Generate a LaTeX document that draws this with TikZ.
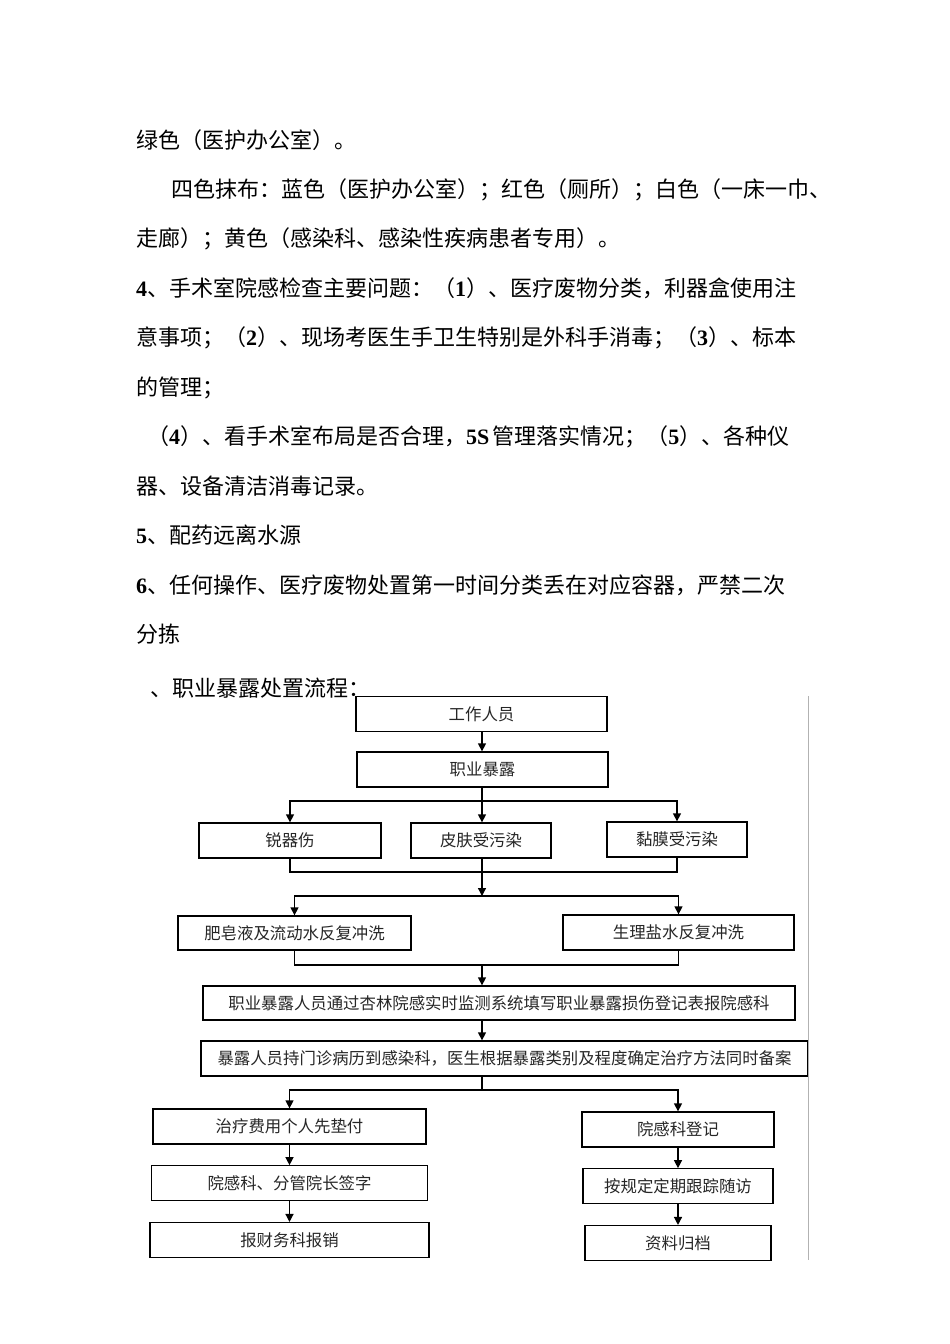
\documentclass[tikz,border=0pt]{standalone}
\usepackage{fontspec}
\setmainfont{Liberation Serif}
\newfontfamily\cjk{Noto Sans CJK SC}
\usepackage{tikz}
\usetikzlibrary{positioning, arrows.meta, calc}
\newcommand{\bn}[1]{{\rmfamily\bfseries #1}} % bold latin digits
\newcommand{\bodyfont}{\cjk\fontsize{22}{26}\selectfont}
\newcommand{\boxfont}{\cjk\fontsize{16.4}{20}\selectfont}
\tikzset{
    node distance=20.5pt, % Gap between two boxes of one column
    box/.style={ % Sets the properties for each box
        draw,
        line width=1.3pt,
        minimum height=35pt,
        inner sep=0pt,
        font=\boxfont,
        text=black!85
    },
    every edge/.style={ % Sets the properties for each straight arrow
        draw,
        ->,>={Triangle[length=8pt,width=8pt]},
        line width=1.3pt
    },
    flow/.style={->,>={Triangle[length=8pt,width=8pt]},line width=1.3pt},
    link/.style={line width=1.3pt},
}

\begin{document}
\begin{tikzpicture}[x=1pt,y=-1pt]
            \tikzset{
                txt/.style={anchor=base west,inner sep=0pt,font=\bodyfont},
                rule/.style={draw=gray!60,line width=1pt}
            }
            \fill[white] (0,0) rectangle (950,1344);
            \useasboundingbox (0,0) rectangle (950,1344);

            % text above the chart
            \node[txt] (l1)   at (136,148)   {绿色（医护办公室）。};
            \node[txt] (l2)   at (171,197.3) {四色抹布：蓝色（医护办公室）；红色（厕所）；白色（一床一巾、};
            \node[txt] (l3)   at (136,246.8) {走廊）；黄色（感染科、感染性疾病患者专用）。};
            \node[txt] (l4)   at (136,296.3) {\bn{4}、手术室院感检查主要问题：（\bn{1}）、医疗废物分类，利器盒使用注};
            \node[txt] (l5)   at (136,345.8) {意事项；（\bn{2}）、现场考医生手卫生特别是外科手消毒；（\bn{3}）、标本};
            \node[txt] (l6)   at (136,395.3) {的管理；};
            \node[txt] (l7)   at (147,444.8) {（\bn{4}）、看手术室布局是否合理，\bn{5S}\hspace{3pt}管理落实情况；（\bn{5}）、各种仪};
            \node[txt] (l8)   at (136,494.3) {器、设备清洁消毒记录。};
            \node[txt] (l9)   at (136,543.8) {\bn{5}、配药远离水源};
            \node[txt] (l10)  at (136,593.3) {\bn{6}、任何操作、医疗废物处置第一时间分类丢在对应容器，严禁二次};
            \node[txt] (l11)  at (136,642.8) {分拣};
            \node[txt] (head) at (150,696)   {、职业暴露处置流程：};

            % boxes
            \node[box, minimum width=251pt] (work)    at (481.5,714)   {工作人员};
            \node[box, minimum width=251pt] (expo)    at (482.5,769.5) {职业暴露};
            \node[box, minimum width=182pt] (sharp)   at (290,840.5)   {锐器伤};
            \node[box, minimum width=140pt] (skin)    at (481,840.5)   {皮肤受污染};
            \node[box, minimum width=140pt] (mucosa)  at (677,839.5)   {黏膜受污染};
            \node[box, minimum width=233pt, minimum height=34pt] (soap)   at (294.5,933)   {肥皂液及流动水反复冲洗};
            \node[box, minimum width=231pt] (saline)  at (678.5,932.5) {生理盐水反复冲洗};
            \node[box, minimum width=592pt, minimum height=34pt] (report) at (499,1003) {职业暴露人员通过杏林院感实时监测系统填写职业暴露损伤登记表报院感科};
            \node[box, minimum width=607pt] (visit)   at (504.5,1058.5) {暴露人员持门诊病历到感染科，医生根据暴露类别及程度确定治疗方法同时备案};
            \node[box, minimum width=273pt] (pay)     at (289.5,1126.5) {治疗费用个人先垫付};
            \node[box, minimum width=276pt, below=of pay]    (sign)    {院感科、分管院长签字};
            \node[box, minimum width=279pt, below=of sign]   (refund)  {报财务科报销};
            \node[box, minimum width=192pt] (reg)     at (678,1129.5)  {院感科登记};
            \node[box, minimum width=190pt, below=of reg]    (follow)  {按规定定期跟踪随访};
            \node[box, minimum width=186pt, below=of follow] (archive) {资料归档};

            % branch and merge points on the spine
            \coordinate (br1) at (482,801);
            \coordinate (mg1) at (482,872);
            \coordinate (br2) at (482,896);
            \coordinate (mg2) at (482,965);
            \coordinate (br3) at (482,1090);
            \coordinate (rt)  at (808,696);
            \coordinate (rb)  at (808,1260);

            \draw[flow] (work.south -| br1)   -- (expo.north -| br1);
            \draw[link] (expo.south -| br1)   -- (br1);
            \draw[flow] (br1) -| (sharp);
            \draw[flow] (br1) -- (skin.north -| br1);
            \draw[flow] (br1) -| (mucosa);
            \draw[link] (sharp) |- (mg1) -| (mucosa);
            \draw[flow] (skin.south -| br1)   -- (br2);
            \draw[flow] (br2) -| (soap);
            \draw[flow] (br2) -| (saline);
            \draw[link] (soap) |- (mg2) -| (saline);
            \draw[flow] (mg2) -- (report.north -| mg2);
            \draw[flow] (report.south -| br3) -- (visit.north -| br3);
            \draw[link] (visit.south -| br3)  -- (br3);
            \draw[flow] (br3) -| (pay);
            \draw[flow] (br3) -| (reg);
            \draw   (pay)    edge  (sign)
                    (sign)   edge  (refund)
                    (reg)    edge  (follow)
                    (follow) edge  (archive)
            ;
            \draw[rule] (rt) -- (rb);
        \end{tikzpicture}
\end{document}
